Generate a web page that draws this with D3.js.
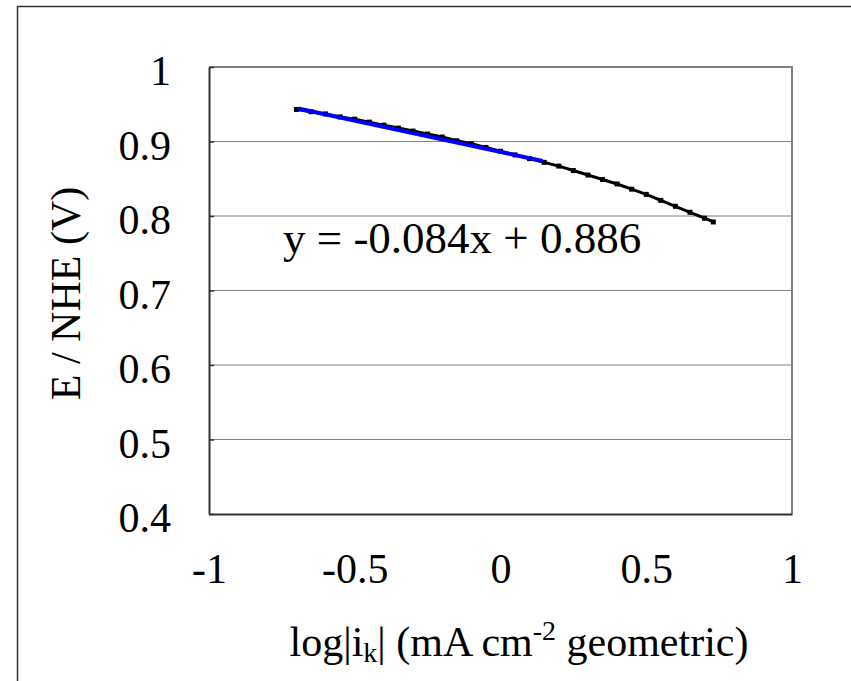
<!DOCTYPE html>
<html>
<head>
<meta charset="utf-8">
<script src="https://cdn.jsdelivr.net/npm/d3@7"></script>
<style>
  body { margin: 0; background: #fff; }
  svg { display: block; }
  text { font-family: "Liberation Serif", "Times New Roman", serif; }
</style>
</head>
<body>
<div id="chart"></div>
<script>
// measured log|ik| vs potential
const logIk = [-0.70, -0.65, -0.60, -0.55, -0.50, -0.45, -0.40, -0.35, -0.30, -0.25,
               -0.20, -0.15, -0.10, -0.05, 0.00, 0.05, 0.10, 0.15, 0.20, 0.25,
               0.30, 0.35, 0.40, 0.45, 0.50, 0.55, 0.60, 0.65, 0.70, 0.73];
const potential = [0.943, 0.940, 0.937, 0.933, 0.930, 0.926, 0.922, 0.918, 0.914, 0.910,
                   0.906, 0.901, 0.897, 0.892, 0.887, 0.882, 0.877, 0.872, 0.867, 0.861,
                   0.855, 0.849, 0.843, 0.836, 0.829, 0.821, 0.813, 0.805, 0.797, 0.792];

// Tafel fit
const fitSlope = -0.084;
const fitIntercept = 0.886;
const fitRange = [-0.69, 0.14];

const xTicks = [-1, -0.5, 0, 0.5, 1];
const yTicks = [0.4, 0.5, 0.6, 0.7, 0.8, 0.9, 1];

const W = 851, H = 681;
const margin = { top: 67, right: 59, bottom: 167, left: 209 };
const width = W - margin.left - margin.right;
const height = H - margin.top - margin.bottom;
const font = '"Liberation Serif", "Times New Roman", serif';
const fmt = d => String(d);

const svg = d3.select('#chart').append('svg')
    .attr('width', W)
    .attr('height', H);

// outer frame (right/bottom edges run off the picture)
svg.append('rect')
    .attr('x', 17.5).attr('y', 6.5)
    .attr('width', 900).attr('height', 900)
    .attr('fill', 'none')
    .attr('stroke', '#333')
    .attr('stroke-width', 1.5);

const g = svg.append('g').attr('transform', 'translate(' + margin.left + ',' + margin.top + ')');

const x = d3.scaleLinear().domain([-1, 1]).range([0, width]);
const y = d3.scaleLinear().domain([0.4, 1]).range([height, 0]);

// gridlines
g.append('g')
    .selectAll('line')
    .data(yTicks.filter(d => d > 0.4 && d < 1))
    .enter().append('line')
    .attr('x1', 0).attr('x2', width)
    .attr('y1', d => y(d)).attr('y2', d => y(d))
    .attr('stroke', '#808080')
    .attr('stroke-width', 1);

// plot border top/right
g.append('path')
    .attr('d', 'M0,' + y(1) + 'H' + width + 'V' + height)
    .attr('fill', 'none')
    .attr('stroke', '#808080')
    .attr('stroke-width', 2);

// y axis, ticks inside
const yAxis = g.append('g')
    .attr('class', 'y-axis')
    .call(d3.axisLeft(y).tickValues(yTicks).tickSizeInner(-5).tickSizeOuter(0)
        .tickPadding(38).tickFormat(fmt));
yAxis.select('.domain').attr('stroke', '#333').attr('stroke-width', 2);
yAxis.selectAll('.tick line').attr('stroke', '#333').attr('stroke-width', 1.5);
yAxis.selectAll('text')
    .attr('font-family', font)
    .attr('font-size', 42)
    .attr('fill', '#000')
    .attr('dy', '0.42em');

// x axis
const xAxis = g.append('g')
    .attr('class', 'x-axis')
    .attr('transform', 'translate(0,' + height + ')')
    .call(d3.axisBottom(x).tickValues(xTicks).tickSize(0).tickSizeOuter(0)
        .tickPadding(0).tickFormat(fmt));
xAxis.select('.domain').attr('stroke', '#333').attr('stroke-width', 2);
xAxis.selectAll('text')
    .attr('font-family', font)
    .attr('font-size', 42)
    .attr('fill', '#000')
    .attr('y', 0)
    .attr('dy', 69);

// data
const pts = logIk.map((v, i) => ({ x: v, y: potential[i] }));
const line = d3.line().x(d => x(d.x)).y(d => y(d.y));

g.append('path')
    .datum(pts)
    .attr('fill', 'none')
    .attr('stroke', '#000')
    .attr('stroke-width', 3)
    .attr('d', line);

g.selectAll('.pt')
    .data(pts)
    .enter().append('rect')
    .attr('class', 'pt')
    .attr('x', d => x(d.x) - 2.5)
    .attr('y', d => y(d.y) - 2.5)
    .attr('width', 5).attr('height', 5)
    .attr('fill', '#000');

// fit line
const fitPts = fitRange.map(v => ({ x: v, y: fitSlope * v + fitIntercept }));
g.append('path')
    .datum(fitPts)
    .attr('fill', 'none')
    .attr('stroke', '#0000ff')
    .attr('stroke-width', 4)
    .attr('stroke-linecap', 'round')
    .attr('d', line);

// equation
svg.append('text')
    .attr('x', 283).attr('y', 253)
    .attr('font-family', font)
    .attr('font-size', 45)
    .text('y = ' + fitSlope.toFixed(3) + 'x + ' + fitIntercept.toFixed(3));

// axis titles
svg.append('text')
    .attr('transform', 'translate(80,' + (margin.top + height / 2 + 3) + ') rotate(-90)')
    .attr('text-anchor', 'middle')
    .attr('font-family', font)
    .attr('font-size', 42)
    .text('E / NHE (V)');

const xt = svg.append('text')
    .attr('x', 519).attr('y', 656)
    .attr('text-anchor', 'middle')
    .attr('font-family', font)
    .attr('font-size', 42);
xt.append('tspan').text('log|i');
xt.append('tspan').attr('font-size', 28).attr('dy', 6).text('k');
xt.append('tspan').attr('dy', -6).text('| (mA cm');
xt.append('tspan').attr('font-size', 28).attr('dy', -16).text('-2');
xt.append('tspan').attr('dy', 16).text(' geometric)');
</script>
</body>
</html>
